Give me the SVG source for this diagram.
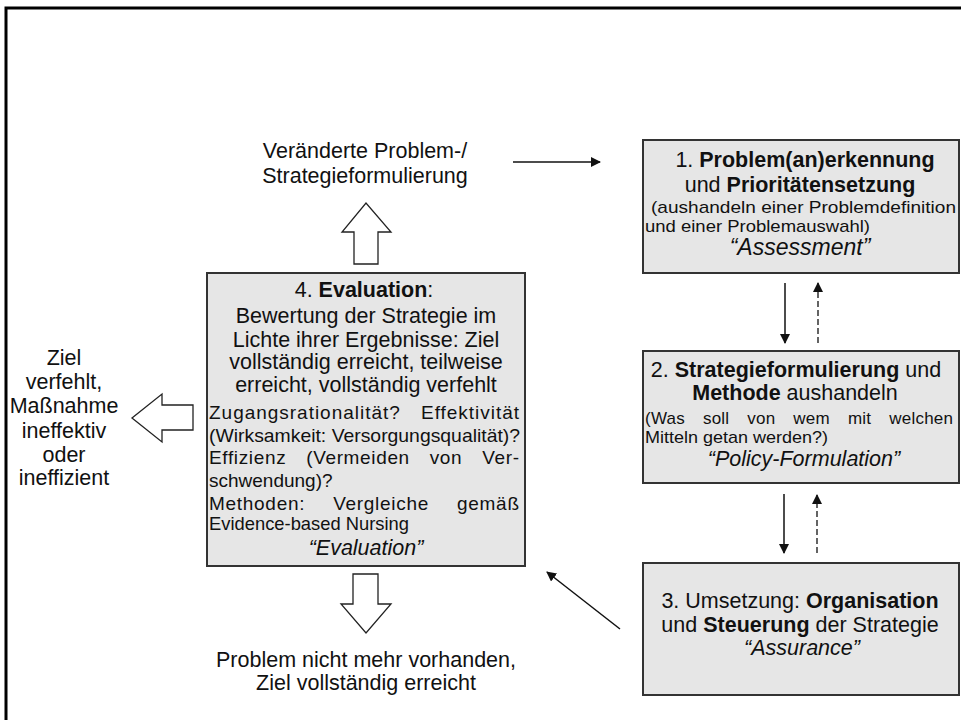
<svg xmlns="http://www.w3.org/2000/svg" width="961" height="720" viewBox="0 0 961 720">
<style>
  text { font-family: "Liberation Sans", Arial, sans-serif; fill: #111; }
  .big { font-size: 21.5px; }
  .small { font-size: 17px; }
  .mid { font-size: 19px; }
  .b { font-weight: bold; }
  .it { font-style: italic; }
  .box { fill: #e6e6e6; stroke: #333; stroke-width: 2; }
  .line { stroke: #111; stroke-width: 1.5; fill: none; }
  .dash { stroke: #111; stroke-width: 1.3; fill: none; stroke-dasharray: 6 3; }
  .block { fill: #fff; stroke: #222; stroke-width: 1.3; }
</style>
<defs>
  <marker id="ahb" viewBox="0 0 10 10" refX="9" refY="5" markerWidth="10" markerHeight="10" markerUnits="userSpaceOnUse" orient="auto">
    <path d="M0,0 L10,5 L0,10 z" fill="#111"/>
  </marker>
</defs>
<rect width="961" height="720" fill="#fff"/>
<g id="frame">
  <path d="M6,720 L6,8 L961,8" fill="none" stroke="#000" stroke-width="3"/>
</g>

<g id="node1">
  <rect class="box" x="643" y="140" width="316" height="133"/>
  <text class="big" x="805" y="167" text-anchor="middle">1. <tspan class="b">Problem(an)erkennung</tspan></text>
  <text class="big" x="800" y="192" text-anchor="middle">und <tspan class="b">Prioritätensetzung</tspan></text>
  <text class="small" x="651" y="213" textLength="305" lengthAdjust="spacingAndGlyphs">(aushandeln einer Problemdefinition</text>
  <text class="small" x="645" y="232" textLength="225" lengthAdjust="spacingAndGlyphs">und einer Problemauswahl)</text>
  <text class="it" x="800" y="255" text-anchor="middle" font-size="23">“Assessment”</text>
</g>

<g id="node2">
  <rect class="box" x="643" y="351" width="316" height="132"/>
  <text class="big" x="796" y="377" text-anchor="middle">2. <tspan class="b">Strategieformulierung</tspan> und</text>
  <text class="big" x="795" y="400" text-anchor="middle"><tspan class="b">Methode</tspan> aushandeln</text>
  <text class="small" x="645" y="424" word-spacing="13" textLength="308" lengthAdjust="spacing" font-size="17.5">(Was soll von wem mit welchen</text>
  <text class="small" x="645" y="443" textLength="183" lengthAdjust="spacingAndGlyphs" font-size="17.5">Mitteln getan werden?)</text>
  <text class="big it" x="804" y="466" text-anchor="middle">“Policy-Formulation”</text>
</g>

<g id="node3">
  <rect class="box" x="643" y="563" width="316" height="132"/>
  <text class="big" x="800" y="608" text-anchor="middle" font-size="22">3. Umsetzung:  <tspan class="b">Organisation</tspan></text>
  <text class="big" x="800" y="632" text-anchor="middle" font-size="22">und <tspan class="b">Steuerung</tspan> der Strategie</text>
  <text class="big it" x="802" y="655" text-anchor="middle">“Assurance”</text>
</g>

<g id="node4">
  <rect class="box" x="207" y="273" width="318" height="293"/>
  <text class="big" x="364" y="297" text-anchor="middle">4. <tspan class="b">Evaluation</tspan>:</text>
  <text class="big" x="366" y="323" text-anchor="middle">Bewertung der Strategie im</text>
  <text class="big" x="366" y="347" text-anchor="middle">Lichte ihrer Ergebnisse: Ziel</text>
  <text class="big" x="366" y="369" text-anchor="middle">vollständig erreicht, teilweise</text>
  <text class="big" x="366" y="392" text-anchor="middle">erreicht, vollständig verfehlt</text>
  <text class="mid" x="209" y="419" word-spacing="14" textLength="310" lengthAdjust="spacing">Zugangsrationalität? Effektivität</text>
  <text class="mid" x="209" y="442" textLength="311" lengthAdjust="spacingAndGlyphs">(Wirksamkeit: Versorgungsqualität)?</text>
  <text class="mid" x="209" y="464" word-spacing="14" textLength="310" lengthAdjust="spacing">Effizienz (Vermeiden von Ver-</text>
  <text class="mid" x="209" y="487">schwendung)?</text>
  <text class="mid" x="209" y="510" word-spacing="22" textLength="310" lengthAdjust="spacing">Methoden: Vergleiche gemäß</text>
  <text class="mid" x="209" y="530" textLength="200" lengthAdjust="spacingAndGlyphs">Evidence-based Nursing</text>
  <text class="big it" x="366" y="555" text-anchor="middle">“Evaluation”</text>
</g>

<g id="label-top">
  <text class="big" x="365" y="158" text-anchor="middle">Veränderte Problem-/</text>
  <text class="big" x="365" y="183" text-anchor="middle">Strategieformulierung</text>
</g>

<g id="label-left">
  <text class="big" x="64" y="365" text-anchor="middle">Ziel</text>
  <text class="big" x="64" y="389" text-anchor="middle">verfehlt,</text>
  <text class="big" x="64" y="413" text-anchor="middle">Maßnahme</text>
  <text class="big" x="64" y="438" text-anchor="middle">ineffektiv</text>
  <text class="big" x="64" y="462" text-anchor="middle">oder</text>
  <text class="big" x="64" y="485" text-anchor="middle">ineffizient</text>
</g>

<g id="label-bottom">
  <text class="big" x="366" y="667" text-anchor="middle">Problem nicht mehr vorhanden,</text>
  <text class="big" x="366" y="690" text-anchor="middle">Ziel vollständig erreicht</text>
</g>

<g id="connectors">
  <line class="line" x1="513" y1="162" x2="600" y2="162" marker-end="url(#ahb)"/>
  <line class="line" x1="785" y1="283" x2="785" y2="343" marker-end="url(#ahb)"/>
  <line class="dash" x1="818" y1="343" x2="818" y2="283" marker-end="url(#ahb)"/>
  <line class="line" x1="784" y1="494" x2="784" y2="553" marker-end="url(#ahb)"/>
  <line class="dash" x1="817" y1="553" x2="817" y2="495" marker-end="url(#ahb)"/>
  <line class="line" x1="620" y1="629" x2="547" y2="572" stroke-width="1.2" marker-end="url(#ahb)"/>
  <path class="block" d="M354,264 L354,232 L342,232 L366,203 L391,232 L378,232 L378,264 Z"/>
  <path class="block" d="M353,574 L378,574 L378,604 L391,604 L366,633 L341,604 L353,604 Z"/>
  <path class="block" d="M193,405 L162,405 L162,394 L132,418 L162,442 L162,430 L193,430 Z"/>
</g>
</svg>
